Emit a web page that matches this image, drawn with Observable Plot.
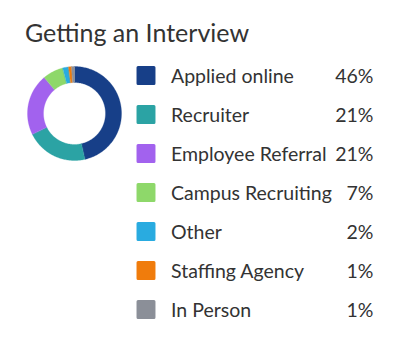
<!DOCTYPE html>
<html>
<head>
<meta charset="utf-8">
<script src="https://cdn.jsdelivr.net/npm/d3@7"></script>
<script src="https://cdn.jsdelivr.net/npm/@observablehq/plot@0.6"></script>
<style>
  html, body { margin: 0; padding: 0; background: #fff; }
  body { width: 400px; height: 356px; position: relative; overflow: hidden; font-family: Lato, sans-serif; }
  #title { position: absolute; left: 25px; top: 17px; font-size: 25px; line-height: 30px; color: #333; white-space: nowrap; }
  #donut { position: absolute; left: 24px; top: 62.5px; }
  #legend { position: absolute; left: 130px; top: 54px; }
  svg { overflow: visible; }
</style>
</head>
<body>
<div id="title">Getting an Interview</div>
<div id="donut"></div>
<div id="legend"></div>
<script>
const categories = ["Applied online", "Recruiter", "Employee Referral", "Campus Recruiting", "Other", "Staffing Agency", "In Person"];
const values = [46, 21, 21, 7, 2, 1, 1];
const colors = ["#173f88", "#2ba3a4", "#a262ee", "#8ed86a", "#29abe0", "#f07c0c", "#8b8f98"];

const data = categories.map((name, i) => ({name, value: values[i]}));
const outerR = 47, innerR = 31;
const arcs = d3.pie().sort(null).value(d => d.value)(data);
const pts = [];
for (const a of arcs) {
  const n = Math.max(4, Math.ceil((a.endAngle - a.startAngle) / 0.02));
  for (let k = 0; k <= n; k++) {
    const t = a.startAngle + (a.endAngle - a.startAngle) * k / n;
    pts.push({name: a.data.name, x: outerR * Math.sin(t), y: outerR * Math.cos(t)});
  }
  for (let k = n; k >= 0; k--) {
    const t = a.startAngle + (a.endAngle - a.startAngle) * k / n;
    pts.push({name: a.data.name, x: innerR * Math.sin(t), y: innerR * Math.cos(t)});
  }
}

const color = {domain: categories, range: colors};

const donut = Plot.plot({
  width: 100, height: 100, margin: 0,
  x: {domain: [-50, 50], axis: null},
  y: {domain: [-50, 50], axis: null},
  color,
  marks: [
    Plot.line(pts, {x: "x", y: "y", z: "name", fill: "name", stroke: "name", strokeWidth: 0.3, curve: "linear-closed"})
  ]
});
document.getElementById("donut").append(donut);

const legend = Plot.plot({
  width: 270, height: 276, margin: 0,
  y: {type: "point", domain: categories, range: [20, 256], padding: 0, axis: null},
  color,
  style: {fontFamily: "Lato, sans-serif"},
  marks: [
    Plot.dot(data, {y: "name", frameAnchor: "left", dx: 15.5, symbol: "square", r: 9, fill: "name", stroke: "name", strokeWidth: 3, strokeLinejoin: "round"}),
    Plot.text(data, {y: "name", text: "name", frameAnchor: "left", dx: 40.5, dy: 1, textAnchor: "start", fontSize: 19.5, fill: "#333"}),
    Plot.text(data, {y: "name", text: d => d.value + "%", frameAnchor: "right", dx: -27, dy: 1, textAnchor: "end", fontSize: 19.5, fill: "#333"})
  ]
});
document.getElementById("legend").append(legend);
</script>
</body>
</html>
